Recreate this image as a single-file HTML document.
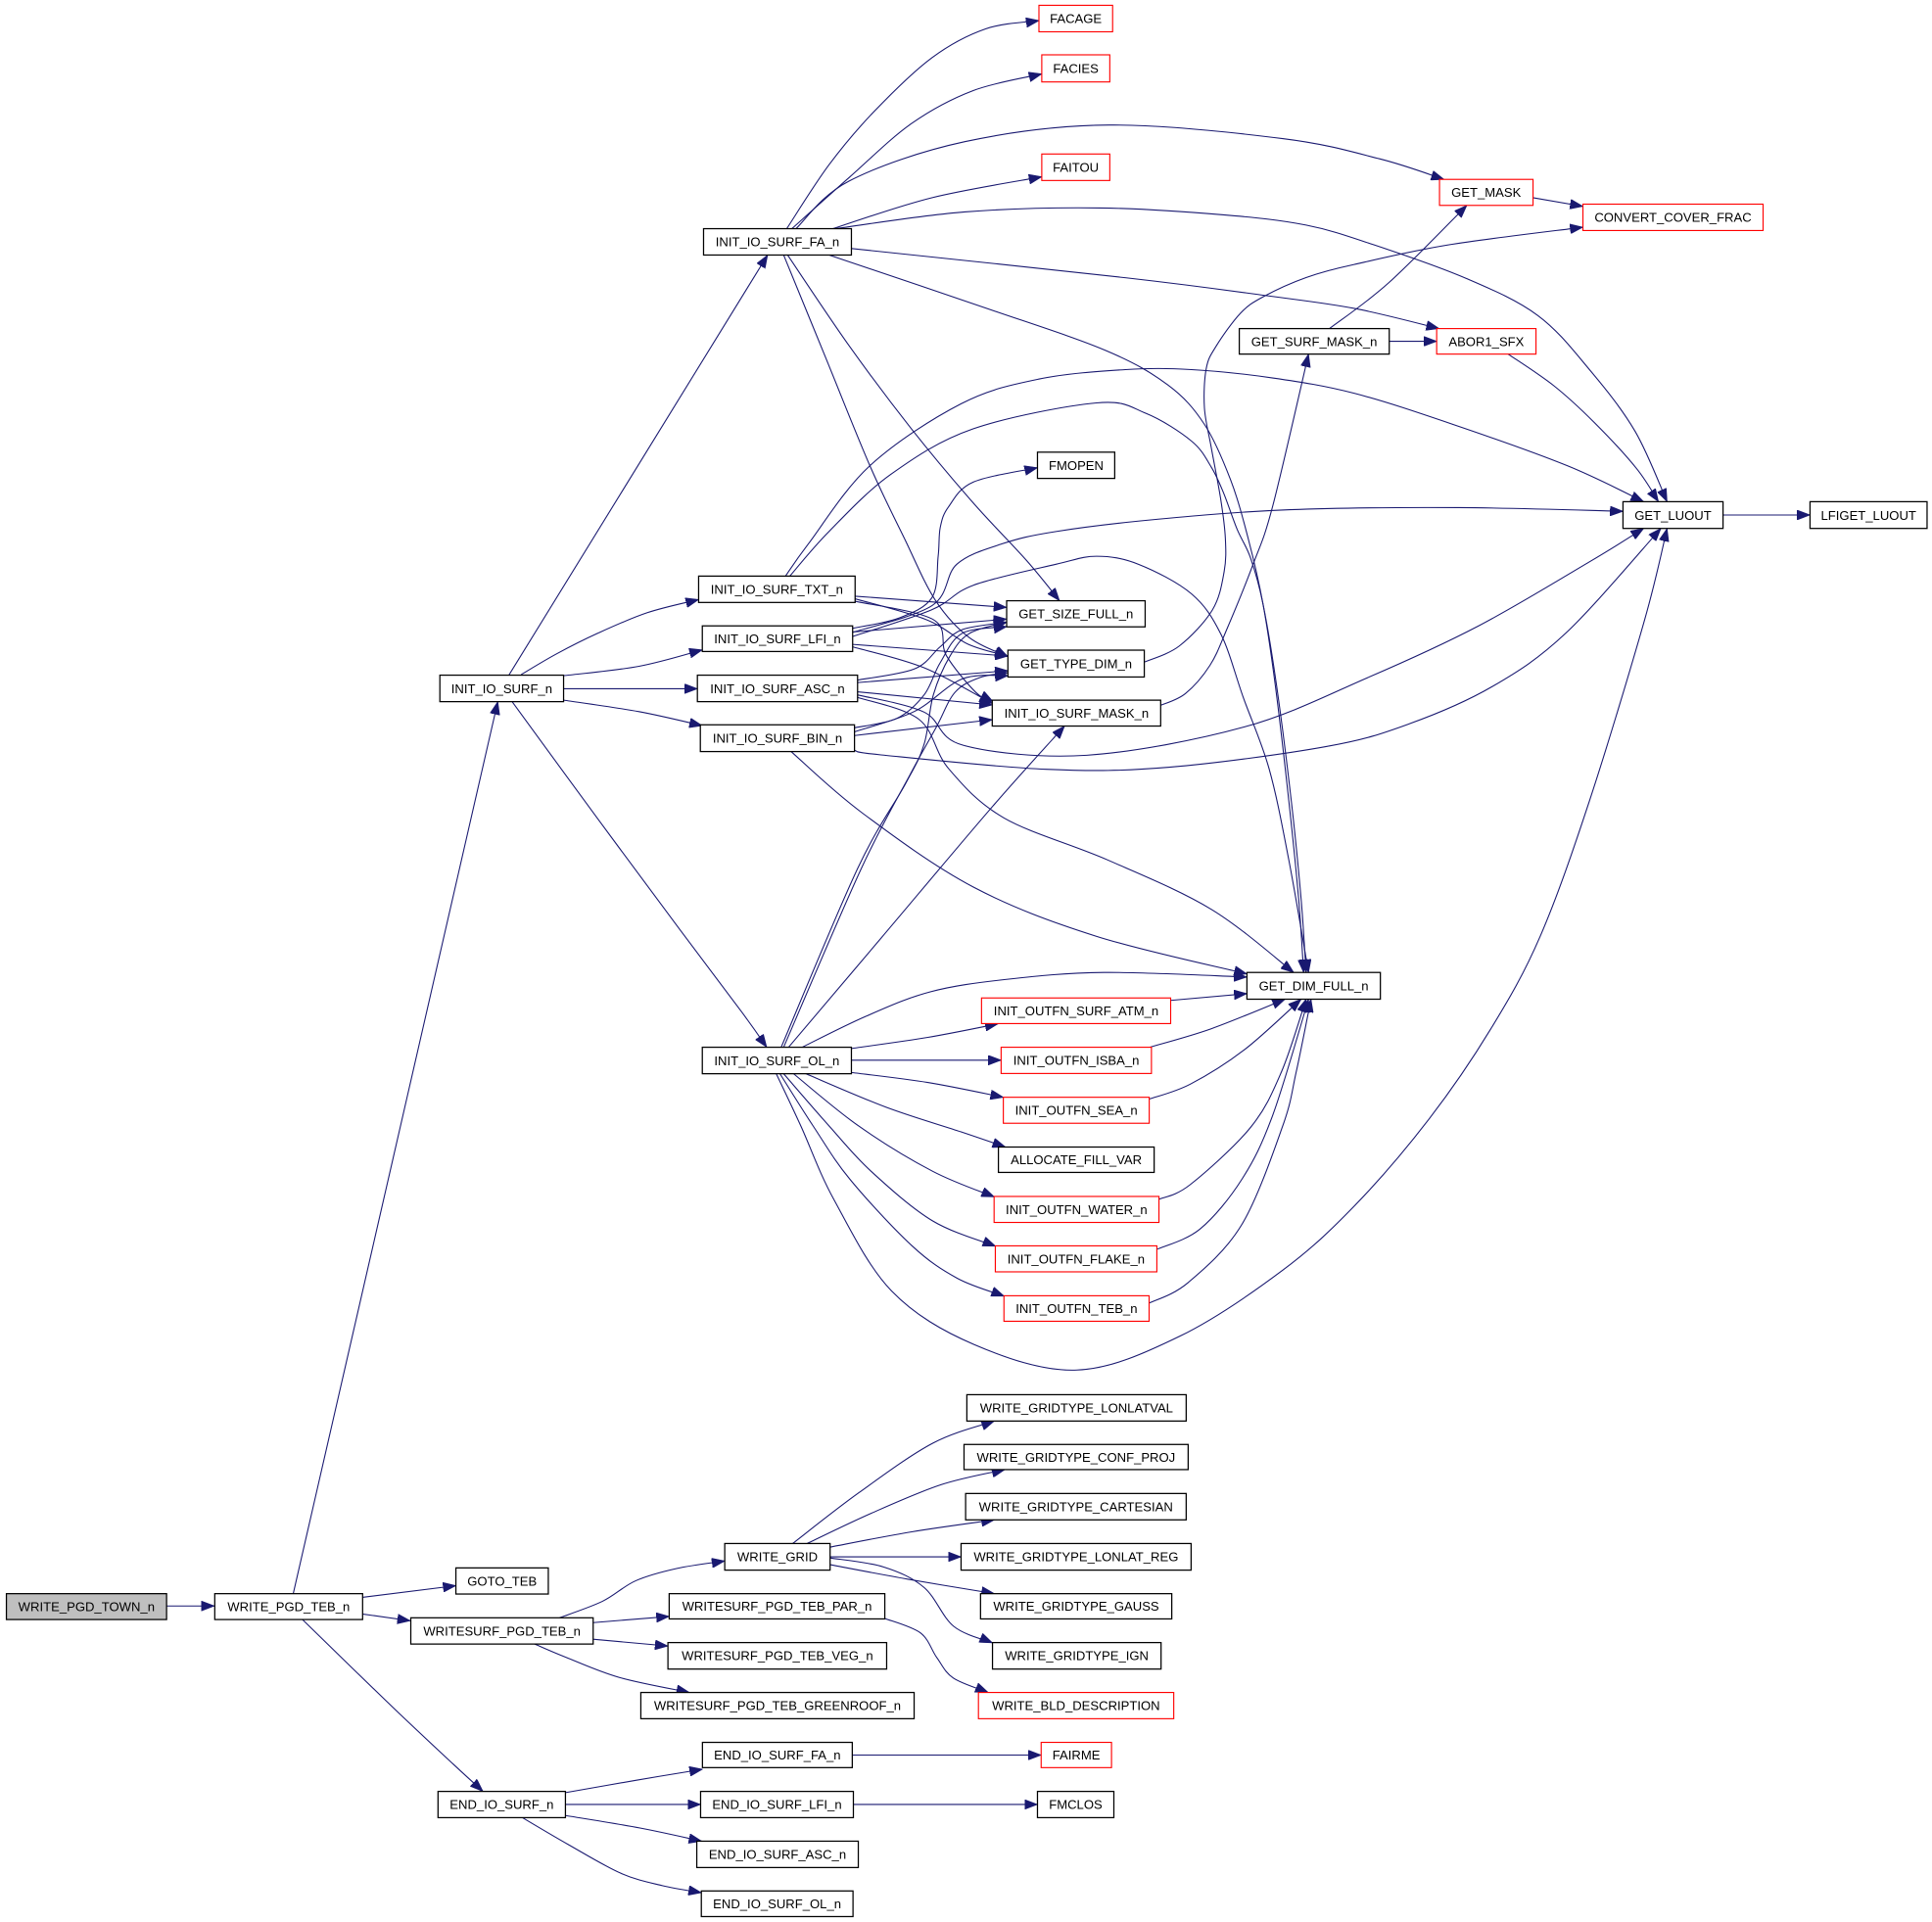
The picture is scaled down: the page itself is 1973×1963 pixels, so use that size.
<!DOCTYPE html>
<html><head><meta charset="utf-8"><style>
html,body{margin:0;padding:0;background:#fff;}
svg{display:block;}
text{font-family:"Liberation Sans",Arial,sans-serif;font-size:10.4px;fill:#000;text-anchor:middle;}
.e{fill:none;stroke:#191970;stroke-width:0.85;}
.n{fill:#fff;stroke:#000;stroke-width:1;}
.r{fill:#fff;stroke:#ff0000;stroke-width:0.9;}
.g{fill:#bfbfbf;stroke:#000;stroke-width:1;}
</style></head><body>
<svg width="1973" height="1963" viewBox="0 0 1568 1560" preserveAspectRatio="none" xmlns="http://www.w3.org/2000/svg">
<defs><marker id="ah" viewBox="0 0 10.5 8" markerWidth="10.5" markerHeight="8" refX="10.5" refY="4" orient="auto" markerUnits="userSpaceOnUse"><path d="M0,0 L10.5,4 L0,8 z" fill="#191970" stroke="#191970" stroke-width="0.5"/></marker></defs>
<rect x="0" y="0" width="1568" height="1560" fill="#fff"/>
<g marker-end="url(#ah)">
<path class="e" d="M135,1303.5 L174,1303.5"/>
<path class="e" d="M294,1296.5 L370,1287"/>
<path class="e" d="M294,1310 L333,1315.5"/>
<path class="e" d="M245,1314 L318,1385 L368,1432 L392,1454"/>
<path class="e" d="M238,1293.5 L404,569.5"/>
<path class="e" d="M413,548 L623,207"/>
<path class="e" d="M423,547.5 L451.7,530.7 L485.1,514 L525.3,497.3 L567,486.6"/>
<path class="e" d="M457,548.5 L518.6,540.8 L570,527.5"/>
<path class="e" d="M457,559 L566,559"/>
<path class="e" d="M457,568.2 L518.6,577.6 L570,589"/>
<path class="e" d="M415.6,569.5 L485.1,664.5 L552,754.8 L602.2,821.7 L622.3,850"/>
<path class="e" d="M638.5,185.6 L672.8,133.8 L709.6,90.3 L756.4,46.8 L799.9,23.4 L843.2,16.7"/>
<path class="e" d="M642.7,185.6 L689.5,143.8 L739.7,100.3 L789.9,73.5 L845.5,60"/>
<path class="e" d="M646,185.6 L689,147 L783,115 L900,101.5 L1041,112.5 L1120,129 L1172,145.6"/>
<path class="e" d="M676,185.6 L756.2,160.5 L845.5,143.5"/>
<path class="e" d="M678,185.6 L783,172 L893,168.8 L993,174.4 L1060,182.7 L1115,198.7 L1190,226 L1248,256 L1290,300 L1327,350 L1353,407.2"/>
<path class="e" d="M691,201.7 L914,225.5 L1028,240 L1100,250.5 L1168,266.7"/>
<path class="e" d="M673,207 L800,250 L897,284.3 L948,312.6 L977.5,344.4 L998.7,389.4 L1013,437 L1025,490 L1035,556 L1046,650 L1054,730 L1058,789.3"/>
<path class="e" d="M639.2,207 L689.4,281 L739.5,347.8 L789.7,408 L833.1,454.9 L859.9,487.6"/>
<path class="e" d="M636,207 L670,290 L706,378 L734,437 L759,487 L786,517 L818,533"/>
<path class="e" d="M637.5,467.6 L656,441.5 L706,378 L780,327.7 L843,307.7 L913.4,300 L967,300 L1033,306.8 L1099,319.2 L1179,344.4 L1272,378 L1334,407.2"/>
<path class="e" d="M641,467.6 L672.8,431.4 L723,385 L790,348 L890,327 L930,335.5 L967,358 L983,379 L993,400 L1004,429.5 L1015,453 L1025,490 L1036,556 L1048,650 L1056,730 L1060,789.3"/>
<path class="e" d="M694,483.9 L817,493"/>
<path class="e" d="M694,486 L752,503 L786,523 L818,532.5"/>
<path class="e" d="M694,488 L757.6,503 L768,532 L792,562 L806,569.5"/>
<path class="e" d="M691.7,510 L729.5,501.7 L756.4,485 L761.4,451.5 L763.1,428.1 L769.8,411.4 L789.9,391.3 L842,379.6"/>
<path class="e" d="M691.7,513.4 L756.4,491.6 L776.5,458 L813,441.5 L857,431.4 L940,421.4 L1047,413.7 L1184,412 L1317.2,415"/>
<path class="e" d="M691.7,516.7 L756,495 L790,475 L857,458 L890,451.5 L924,458 L967,482 L991,515 L1009,566 L1030,624 L1046,698 L1062,789.3"/>
<path class="e" d="M692,513 L817,502.5"/>
<path class="e" d="M692,523 L818,532.5"/>
<path class="e" d="M692,525 L750,542 L805.3,571"/>
<path class="e" d="M696,552 L742,543 L763,525 L781,511 L817,505"/>
<path class="e" d="M696,554 L818,544.4"/>
<path class="e" d="M696,561.5 L805.3,572.2"/>
<path class="e" d="M696,564 L750,578 L782,605 L882,613 L1010,590 L1110,550 L1200,508 L1290,456 L1334,428.9"/>
<path class="e" d="M696,566 L746,584 L770,624 L815,664 L899,698 L983,738 L1050,789.3"/>
<path class="e" d="M693.5,590.7 L728,583 L750,564 L763,538 L781,514 L817,508.6"/>
<path class="e" d="M693.5,594 L742,577.5 L781,551 L818,548.4"/>
<path class="e" d="M693.5,597 L805.3,584.1"/>
<path class="e" d="M693.5,609 L715,612.7 L849,624.4 L949,622.7 L1077,605.8 L1144,587.4 L1211,557.3 L1271,513.7 L1348,428.9"/>
<path class="e" d="M642,610 L700,660 L790,720 L890,760 L1012,790.5"/>
<path class="e" d="M634,850 L696,705 L735,636 L750,604 L757.5,564 L771,532.5 L787,514 L817,505"/>
<path class="e" d="M636,850 L699,705 L739,628 L760,590 L775,562 L795,550 L818,546"/>
<path class="e" d="M640,850 L715,761.5 L805.6,654.5 L864,589.3"/>
<path class="e" d="M651,850 L702.5,825 L755,805 L816,795 L896,789.3 L1012,793"/>
<path class="e" d="M691,851 L753,842 L810,831"/>
<path class="e" d="M691,860.5 L812.5,860.5"/>
<path class="e" d="M691,870.5 L753,878.6 L814.3,890.6"/>
<path class="e" d="M654,871.5 L719,898.6 L780,918.7 L816,931"/>
<path class="e" d="M644,871.5 L697,914 L757,950.7 L807,971.5"/>
<path class="e" d="M636,871.5 L673,914 L707,950.7 L757,991 L808,1011.5"/>
<path class="e" d="M633,871.5 L660,914 L690,957.4 L740,1011 L777,1037.6 L815,1052"/>
<path class="e" d="M630,871.5 L650,914 L677,974 L723.5,1047.7 L790.4,1091.2 L874,1112 L957.6,1084.5 L1041,1031 L1100,978 L1160,908 L1210,835 L1250,760 L1290,650 L1334.5,504 L1353,428.9"/>
<path class="e" d="M950,812 L1012,806.5"/>
<path class="e" d="M933,850 L983,835 L1043,811"/>
<path class="e" d="M933,892 L966,880 L1010,852 L1056,811"/>
<path class="e" d="M940.6,973.4 L966,961.5 L1015,915 L1040,870 L1060,811"/>
<path class="e" d="M939,1014 L974,997.5 L1008,957 L1033,905 L1062,811"/>
<path class="e" d="M932.6,1057.7 L964.3,1041 L1007.8,994 L1041,914 L1052,870 L1064,811"/>
<path class="e" d="M1244.2,160.5 L1284.7,167.5"/>
<path class="e" d="M1127.5,277 L1166,277"/>
<path class="e" d="M1079,266.7 L1127,229.6 L1190.5,166.7"/>
<path class="e" d="M1224,287.4 L1261,313 L1294,343 L1328,380 L1346,407.2"/>
<path class="e" d="M1398.4,418 L1469,418"/>
<path class="e" d="M942,572.5 L962,563 L982,540 L996,510 L1017,458 L1033,410.5 L1062,287.4"/>
<path class="e" d="M928.7,537.4 L957,524.4 L984,495 L993.5,464 L994.5,437 L990.7,405 L983,363 L977.5,331 L979,299 L987,281 L1006.6,254.4 L1025,241 L1060,225.3 L1099,214.7 L1176,198.7 L1284.7,184.4"/>
<path class="e" d="M454,1313.1 L489,1299.7 L516,1283 L549.5,1273 L588.2,1267"/>
<path class="e" d="M481.3,1317 L543.1,1312"/>
<path class="e" d="M481.3,1330.5 L542.1,1336"/>
<path class="e" d="M434,1334.4 L459,1345 L503,1361.6 L559.5,1373.7"/>
<path class="e" d="M718.1,1313.6 L747,1325.3 L760.3,1345.4 L773.7,1362 L802,1373.7"/>
<path class="e" d="M643.3,1252.8 L697,1211.6 L757,1171.4 L807,1153.4"/>
<path class="e" d="M655,1252.8 L707,1228.3 L764,1205 L815.5,1192.8"/>
<path class="e" d="M673.7,1255.7 L740,1243.3 L807,1233.6"/>
<path class="e" d="M673.7,1263.6 L780,1263.6"/>
<path class="e" d="M673.7,1270 L737,1281.8 L807,1293.5"/>
<path class="e" d="M673.7,1264.5 L717,1271.8 L750,1288.5 L774,1320 L805.5,1333.4"/>
<path class="e" d="M458.9,1455 L516,1445 L570.1,1436"/>
<path class="e" d="M458.9,1464.6 L568.6,1464.6"/>
<path class="e" d="M458.9,1473.6 L519.4,1483.7 L569.5,1494.4"/>
<path class="e" d="M424,1475.3 L461,1497 L504,1520.5 L537.6,1530.5 L569.2,1536.2"/>
<path class="e" d="M691.7,1424.5 L845,1424.5"/>
<path class="e" d="M692.6,1464.6 L842,1464.6"/>
</g>
<g>
<rect class="g" x="5.2" y="1293.5" width="130" height="21"/><text x="70.2" y="1307.7">WRITE_PGD_TOWN_n</text>
<rect class="n" x="174.3" y="1293.5" width="120" height="21"/><text x="234.3" y="1307.7">WRITE_PGD_TEB_n</text>
<rect class="n" x="370" y="1272.6" width="75" height="21.2"/><text x="407.5" y="1286.9">GOTO_TEB</text>
<rect class="n" x="333.4" y="1313.1" width="148" height="21.3"/><text x="407.4" y="1327.5">WRITESURF_PGD_TEB_n</text>
<rect class="n" x="355.5" y="1454" width="103.4" height="21.3"/><text x="407.2" y="1468.4">END_IO_SURF_n</text>
<rect class="n" x="357" y="548" width="100.4" height="21.5"/><text x="407.2" y="562.5">INIT_IO_SURF_n</text>
<rect class="n" x="571" y="185.6" width="120" height="21.4"/><text x="631" y="200">INIT_IO_SURF_FA_n</text>
<rect class="n" x="567" y="467.6" width="127" height="21.4"/><text x="630.5" y="482">INIT_IO_SURF_TXT_n</text>
<rect class="n" x="570" y="508" width="122" height="20.8"/><text x="631" y="522.1">INIT_IO_SURF_LFI_n</text>
<rect class="n" x="566" y="548" width="130" height="21.5"/><text x="631" y="562.5">INIT_IO_SURF_ASC_n</text>
<rect class="n" x="568.4" y="588.3" width="125.1" height="21.7"/><text x="631" y="602.9">INIT_IO_SURF_BIN_n</text>
<rect class="n" x="570" y="850" width="121" height="21.5"/><text x="630.5" y="864.5">INIT_IO_SURF_OL_n</text>
<rect class="r" x="843.2" y="4.3" width="59.8" height="21.5"/><text x="873.1" y="18.8">FACAGE</text>
<rect class="r" x="845.5" y="44.5" width="55.2" height="22"/><text x="873.1" y="59.2">FACIES</text>
<rect class="r" x="845.5" y="125" width="55.2" height="21.5"/><text x="873.1" y="139.5">FAITOU</text>
<rect class="n" x="842" y="367" width="62.7" height="21.3"/><text x="873.4" y="381.4">FMOPEN</text>
<rect class="n" x="817" y="487.6" width="112.4" height="21.2"/><text x="873.2" y="501.9">GET_SIZE_FULL_n</text>
<rect class="n" x="818" y="527.7" width="110.7" height="21.8"/><text x="873.4" y="542.3">GET_TYPE_DIM_n</text>
<rect class="n" x="805.3" y="568.3" width="136.7" height="21"/><text x="873.7" y="582.5">INIT_IO_SURF_MASK_n</text>
<rect class="n" x="1012" y="789.3" width="108.3" height="21.7"/><text x="1066.2" y="803.9">GET_DIM_FULL_n</text>
<rect class="r" x="796.6" y="810" width="153.5" height="20.8"/><text x="873.4" y="824.1">INIT_OUTFN_SURF_ATM_n</text>
<rect class="r" x="812.5" y="850" width="122" height="21.3"/><text x="873.5" y="864.4">INIT_OUTFN_ISBA_n</text>
<rect class="r" x="814.3" y="890.6" width="118.4" height="21.1"/><text x="873.5" y="904.9">INIT_OUTFN_SEA_n</text>
<rect class="n" x="810.3" y="931" width="126.4" height="20.6"/><text x="873.5" y="945">ALLOCATE_FILL_VAR</text>
<rect class="r" x="806.8" y="971.1" width="133.8" height="21.1"/><text x="873.7" y="985.4">INIT_OUTFN_WATER_n</text>
<rect class="r" x="807.8" y="1011.2" width="131.1" height="21.1"/><text x="873.3" y="1025.5">INIT_OUTFN_FLAKE_n</text>
<rect class="r" x="814.8" y="1051.7" width="117.8" height="20.7"/><text x="873.7" y="1065.8">INIT_OUTFN_TEB_n</text>
<rect class="r" x="1168.3" y="145.6" width="75.9" height="21.1"/><text x="1206.2" y="159.9">GET_MASK</text>
<rect class="r" x="1284.7" y="165.7" width="146.2" height="21.4"/><text x="1357.8" y="180.1">CONVERT_COVER_FRAC</text>
<rect class="n" x="1005.8" y="266.7" width="121.7" height="20.7"/><text x="1066.6" y="280.8">GET_SURF_MASK_n</text>
<rect class="r" x="1166" y="266.7" width="80.6" height="20.7"/><text x="1206.3" y="280.8">ABOR1_SFX</text>
<rect class="n" x="1317.2" y="407.2" width="81.2" height="21.7"/><text x="1357.8" y="421.8">GET_LUOUT</text>
<rect class="n" x="1469" y="407.2" width="95" height="21.7"/><text x="1516.5" y="421.8">LFIGET_LUOUT</text>
<rect class="n" x="588.2" y="1252.8" width="85.5" height="21.6"/><text x="631" y="1267.3">WRITE_GRID</text>
<rect class="n" x="543.1" y="1293.5" width="175" height="20.5"/><text x="630.6" y="1307.4">WRITESURF_PGD_TEB_PAR_n</text>
<rect class="n" x="542.1" y="1333.2" width="177.5" height="21.5"/><text x="630.9" y="1347.6">WRITESURF_PGD_TEB_VEG_n</text>
<rect class="n" x="520.1" y="1373.7" width="221.8" height="21.3"/><text x="631" y="1388.1">WRITESURF_PGD_TEB_GREENROOF_n</text>
<rect class="n" x="570.1" y="1414.2" width="121.6" height="20.5"/><text x="630.9" y="1428.1">END_IO_SURF_FA_n</text>
<rect class="n" x="568.6" y="1454" width="124" height="21.3"/><text x="630.6" y="1468.4">END_IO_SURF_LFI_n</text>
<rect class="n" x="565.5" y="1494.4" width="131.1" height="21.4"/><text x="631" y="1508.8">END_IO_SURF_ASC_n</text>
<rect class="n" x="569.2" y="1534.8" width="123.1" height="20.8"/><text x="630.7" y="1548.9">END_IO_SURF_OL_n</text>
<rect class="r" x="845" y="1414.2" width="57.1" height="20.5"/><text x="873.5" y="1428.1">FAIRME</text>
<rect class="n" x="842" y="1454" width="62" height="21.3"/><text x="873" y="1468.4">FMCLOS</text>
<rect class="n" x="784.7" y="1132" width="178" height="21.4"/><text x="873.7" y="1146.4">WRITE_GRIDTYPE_LONLATVAL</text>
<rect class="n" x="782.4" y="1172.4" width="181.9" height="20.4"/><text x="873.3" y="1186.3">WRITE_GRIDTYPE_CONF_PROJ</text>
<rect class="n" x="783.7" y="1212.2" width="179" height="21.4"/><text x="873.2" y="1226.6">WRITE_GRIDTYPE_CARTESIAN</text>
<rect class="n" x="780" y="1252.8" width="186.7" height="21.6"/><text x="873.3" y="1267.3">WRITE_GRIDTYPE_LONLAT_REG</text>
<rect class="n" x="795.8" y="1293.5" width="155.2" height="20.5"/><text x="873.4" y="1307.4">WRITE_GRIDTYPE_GAUSS</text>
<rect class="n" x="805.5" y="1333.2" width="136.8" height="21.5"/><text x="873.9" y="1347.6">WRITE_GRIDTYPE_IGN</text>
<rect class="r" x="794.1" y="1373.7" width="158.5" height="21.3"/><text x="873.3" y="1388.1">WRITE_BLD_DESCRIPTION</text>
</g>
</svg>
<script>
(function(){
var ps=document.querySelectorAll('path.e');
for(var k=0;k<ps.length;k++){
var p=ps[k];var n=p.getAttribute('d').match(/-?[\d.]+/g).map(Number);
var pts=[];for(var i=0;i+1<n.length;i+=2)pts.push([n[i],n[i+1]]);
if(pts.length<3)continue;
var d='M'+pts[0][0]+','+pts[0][1];
for(var i=0;i<pts.length-1;i++){
var p0=pts[i-1]||pts[i],p1=pts[i],p2=pts[i+1],p3=pts[i+2]||p2;
var c1x=p1[0]+(p2[0]-p0[0])/6,c1y=p1[1]+(p2[1]-p0[1])/6;
var c2x=p2[0]-(p3[0]-p1[0])/6,c2y=p2[1]-(p3[1]-p1[1])/6;
d+=' C'+c1x.toFixed(2)+','+c1y.toFixed(2)+' '+c2x.toFixed(2)+','+c2y.toFixed(2)+' '+p2[0]+','+p2[1];
}
p.setAttribute('d',d);
}
})();
</script>
</body></html>
